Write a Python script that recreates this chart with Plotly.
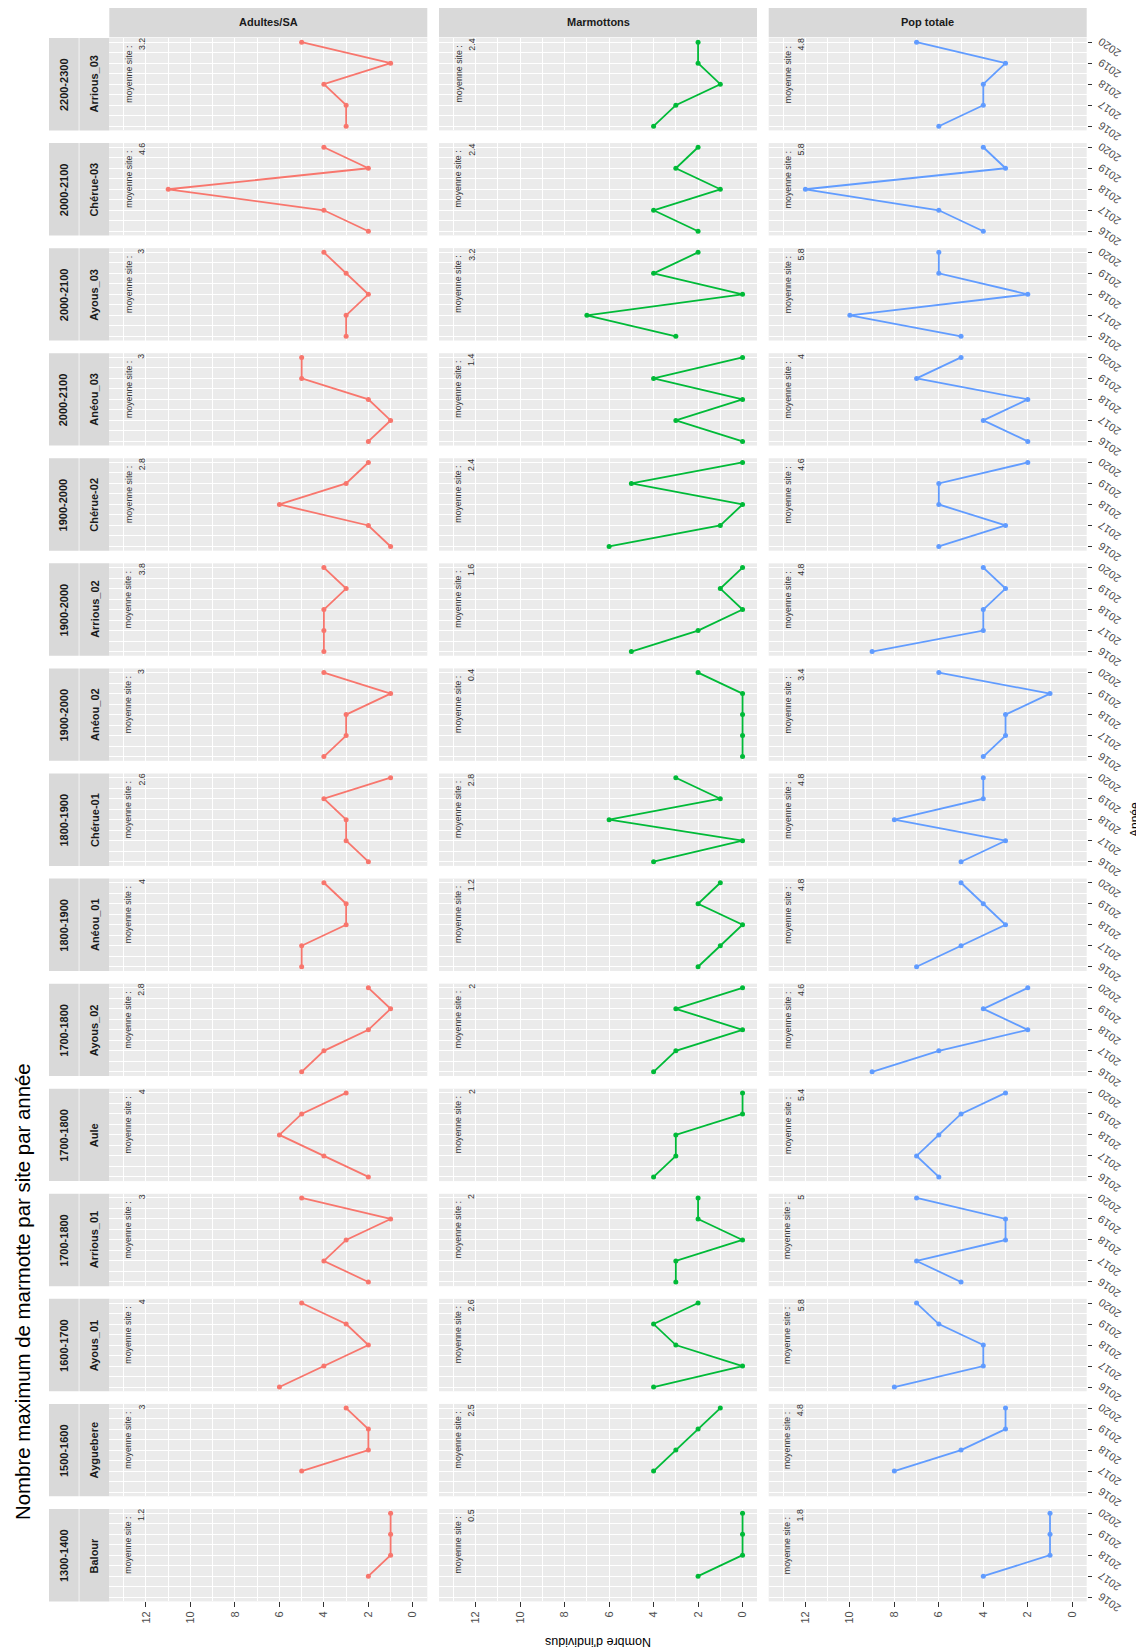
import plotly.graph_objects as go

# page body has an 8px margin: figure is drawn in a 1136x1642 box starting at (8, 8)
OFF = 8
W, H = 1144 - OFF, 1650 - OFF

years = [2016, 2017, 2018, 2019, 2020]
variables = ["Adultes/SA", "Marmottons", "Pop totale"]
altitudes = ["2200-2300", "2000-2100", "2000-2100", "2000-2100", "1900-2000",
             "1900-2000", "1900-2000", "1800-1900", "1800-1900", "1700-1800",
             "1700-1800", "1700-1800", "1600-1700", "1500-1600", "1300-1400"]
sites = ["Arrious_03", "Chérue-03", "Ayous_03", "Anéou_03", "Chérue-02",
         "Arrious_02", "Anéou_02", "Chérue-01", "Anéou_01", "Ayous_02",
         "Aule", "Arrious_01", "Ayous_01", "Ayguebere", "Balour"]

# values per site, years 2016..2020 (None = no survey)
adultes = [[3, 3, 4, 1, 5], [2, 4, 11, 2, 4], [3, 3, 2, 3, 4], [2, 1, 2, 5, 5],
           [1, 2, 6, 3, 2], [4, 4, 4, 3, 4], [4, 3, 3, 1, 4], [2, 3, 3, 4, 1],
           [5, 5, 3, 3, 4], [5, 4, 2, 1, 2], [2, 4, 6, 5, 3], [2, 4, 3, 1, 5],
           [6, 4, 2, 3, 5], [None, 5, 2, 2, 3], [None, 2, 1, 1, 1]]
marmottons = [[4, 3, 1, 2, 2], [2, 4, 1, 3, 2], [3, 7, 0, 4, 2], [0, 3, 0, 4, 0],
              [6, 1, 0, 5, 0], [5, 2, 0, 1, 0], [0, 0, 0, 0, 2], [4, 0, 6, 1, 3],
              [2, 1, 0, 2, 1], [4, 3, 0, 3, 0], [4, 3, 3, 0, 0], [3, 3, 0, 2, 2],
              [4, 0, 3, 4, 2], [None, 4, 3, 2, 1], [None, 2, 0, 0, 0]]
pop_totale = [[6, 4, 4, 3, 7], [4, 6, 12, 3, 4], [5, 10, 2, 6, 6], [2, 4, 2, 7, 5],
              [6, 3, 6, 6, 2], [9, 4, 4, 3, 4], [4, 3, 3, 1, 6], [5, 3, 8, 4, 4],
              [7, 5, 3, 4, 5], [9, 6, 2, 4, 2], [6, 7, 6, 5, 3], [5, 7, 3, 3, 7],
              [8, 4, 4, 6, 7], [None, 8, 5, 3, 3], [None, 4, 1, 1, 1]]

mean_adultes = ["3.2", "4.6", "3", "3", "2.8", "3.8", "3", "2.6", "4", "2.8",
                "4", "3", "4", "3", "1.2"]
mean_marmottons = ["2.4", "2.4", "3.2", "1.4", "2.4", "1.6", "0.4", "2.8", "1.2", "2",
                   "2", "2", "2.6", "2.5", "0.5"]
mean_pop = ["4.8", "5.8", "5.8", "4", "4.6", "4.8", "3.4", "4.8", "4.8", "4.6",
            "5.4", "5", "5.8", "4.8", "1.8"]

count_ticks = [0, 2, 4, 6, 8, 10, 12]
colors = ["#F8766D", "#00BA38", "#619CFF"]

series = [adultes, marmottons, pop_totale]
means = [mean_adultes, mean_marmottons, mean_pop]

# geometry (pixels in the 1144x1650 picture)
col_left = [109.3, 439.0, 768.7]
panel_w = 318.0
row_top0 = 38.0
row_pitch = 105.07
panel_h = 92.4
FONT = "Liberation Sans, Arial, sans-serif"


def px(x):
    return (x - OFF) / W


def py(y):
    return 1 - (y - OFF) / H


fig = go.Figure()

n_rows = len(sites)
for r in range(n_rows):
    for c in range(3):
        vals = series[c][r]
        xs = [v for v in vals if v is not None]
        ys = [yr for yr, v in zip(years, vals) if v is not None]
        fig.add_trace(go.Scatter(
            x=xs, y=ys, mode="lines+markers",
            line=dict(color=colors[c], width=1.8),
            marker=dict(color=colors[c], size=5),
            xaxis="x" if c == 0 else f"x{c+1}",
            yaxis="y" if r == 0 else f"y{r+1}",
            hoverinfo="skip", showlegend=False))

layout = dict(
    width=W, height=H, margin=dict(l=0, r=0, t=0, b=0, autoexpand=False),
    paper_bgcolor="white", plot_bgcolor="#EBEBEB", showlegend=False,
    font=dict(family=FONT, color="#4D4D4D"),
)

for c in range(3):
    key = "xaxis" if c == 0 else f"xaxis{c+1}"
    l = col_left[c]
    layout[key] = dict(
        domain=[px(l), px(l + panel_w)], anchor=f"y{n_rows}",
        range=[13.65, -0.65], autorange=False, automargin=False,
        tickvals=count_ticks, ticktext=[str(v) for v in count_ticks],
        ticks="outside", ticklen=4.5, tickwidth=1, tickcolor="#333333",
        tickangle=-90, tickfont=dict(size=11, color="#4D4D4D", family=FONT),
        showgrid=True, gridcolor="white", gridwidth=1.1,
        minor=dict(dtick=1, tick0=0, showgrid=True, gridcolor="white", gridwidth=0.5),
        zeroline=False, showline=False, fixedrange=True,
    )

for r in range(n_rows):
    key = "yaxis" if r == 0 else f"yaxis{r+1}"
    top = row_top0 + r * row_pitch
    layout[key] = dict(
        domain=[py(top + panel_h), py(top)], anchor="x3", side="right",
        range=[2015.8, 2020.2], autorange=False, automargin=False,
        tickvals=years, showticklabels=False,
        ticks="outside", ticklen=4.5, tickwidth=1, tickcolor="#333333",
        showgrid=True, gridcolor="white", gridwidth=1.1,
        minor=dict(dtick=0.5, tick0=2016, showgrid=True, gridcolor="white", gridwidth=0.5),
        zeroline=False, showline=False, fixedrange=True,
    )

shapes = []
annotations = []
STRIP = "#D9D9D9"
STRIP_TXT = "#1A1A1A"

# column strips
for c in range(3):
    l = col_left[c]
    shapes.append(dict(type="rect", xref="paper", yref="paper",
                       x0=px(l), x1=px(l + panel_w), y0=py(37.3), y1=py(6.7),
                       fillcolor=STRIP, line=dict(width=0), layer="below"))
    annotations.append(dict(xref="paper", yref="paper", x=px(l + panel_w / 2), y=py(22),
                            text=f"<b>{variables[c]}</b>", showarrow=False,
                            xanchor="center", yanchor="middle",
                            font=dict(size=11, color=STRIP_TXT, family=FONT)))

# row strips, year labels and mean labels
for r in range(n_rows):
    top = row_top0 + r * row_pitch
    bot = top + panel_h
    yref = "y" if r == 0 else f"y{r+1}"
    shapes.append(dict(type="rect", xref="paper", yref="paper",
                       x0=px(49.0), x1=px(78.7), y0=py(bot), y1=py(top),
                       fillcolor=STRIP, line=dict(width=0), layer="below"))
    shapes.append(dict(type="rect", xref="paper", yref="paper",
                       x0=px(79.4), x1=px(109.3), y0=py(bot), y1=py(top),
                       fillcolor=STRIP, line=dict(width=0), layer="below"))
    annotations.append(dict(xref="paper", yref="paper", x=px(63.9), y=py((top + bot) / 2),
                            text=f"<b>{altitudes[r]}</b>", showarrow=False, textangle=-90,
                            xanchor="center", yanchor="middle",
                            font=dict(size=11, color=STRIP_TXT, family=FONT)))
    annotations.append(dict(xref="paper", yref="paper", x=px(94.3), y=py((top + bot) / 2),
                            text=f"<b>{sites[r]}</b>", showarrow=False, textangle=-90,
                            xanchor="center", yanchor="middle",
                            font=dict(size=11, color=STRIP_TXT, family=FONT)))
    for yr in years:
        annotations.append(dict(xref="paper", yref=yref, x=px(1109.3), y=yr, yshift=-5.5,
                                text=str(yr), showarrow=False, textangle=-145,
                                xanchor="center", yanchor="middle", borderpad=0,
                                font=dict(size=11, color="#4D4D4D", family=FONT)))
    for c in range(3):
        l = col_left[c]
        annotations.append(dict(xref="paper", yref="paper", x=px(l + 19), y=py(top + 66),
                                text="moyenne site :", showarrow=False, textangle=-90,
                                xanchor="center", yanchor="bottom", borderpad=0,
                                font=dict(size=8.8, color="#333333", family=FONT)))
        annotations.append(dict(xref="paper", yref="paper", x=px(l + 32.2), y=py(top - 0.5),
                                text=means[c][r], showarrow=False, textangle=-90,
                                xanchor="center", yanchor="top", borderpad=0,
                                font=dict(size=8.8, color="#333333", family=FONT)))

# titles
annotations.append(dict(xref="paper", yref="paper", x=px(22.5), y=py(1291.5),
                        text="Nombre maximum de marmotte par site par année",
                        showarrow=False, textangle=-90, xanchor="center", yanchor="middle",
                        font=dict(size=20.4, color="black", family=FONT)))
annotations.append(dict(xref="paper", yref="paper", x=px(1135), y=py(820),
                        text="Année", showarrow=False, textangle=-90,
                        xanchor="center", yanchor="middle",
                        font=dict(size=12, color="black", family=FONT)))
annotations.append(dict(xref="paper", yref="paper", x=px(598), y=py(1642),
                        text="Nombre d'individus", showarrow=False, textangle=180,
                        xanchor="center", yanchor="middle",
                        font=dict(size=12.5, color="black", family=FONT)))

layout["shapes"] = shapes
layout["annotations"] = annotations
fig.update_layout(**layout)

fig.write_html("out.html")
